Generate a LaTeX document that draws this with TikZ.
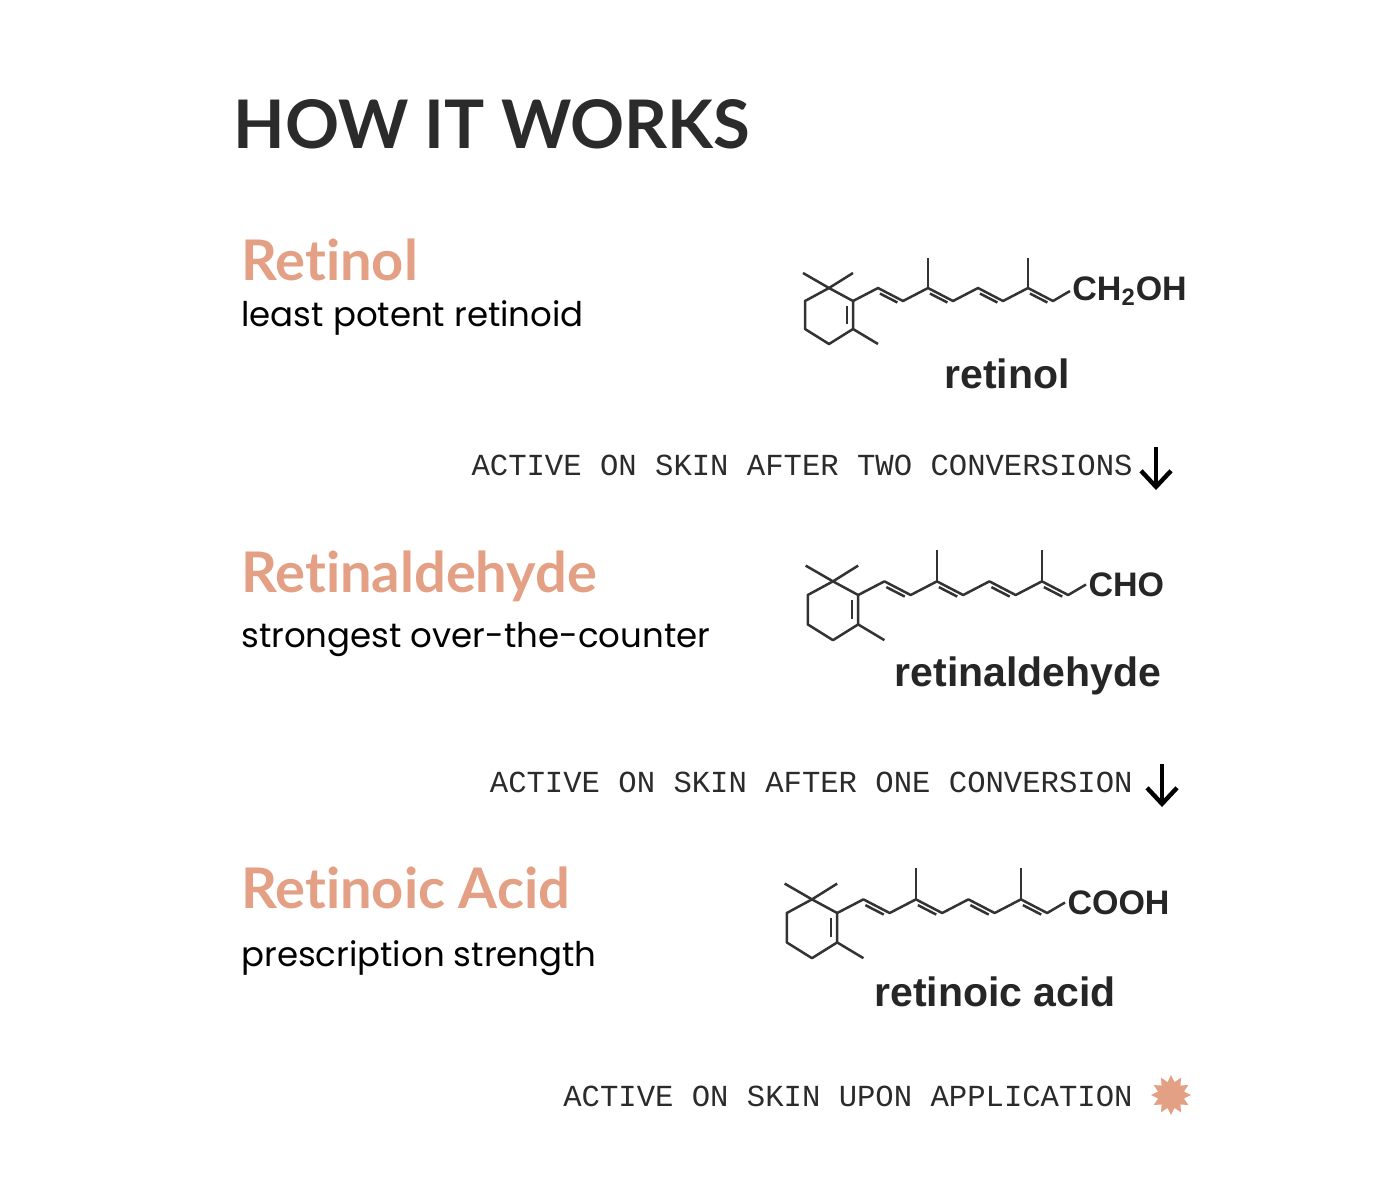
\documentclass[tikz,border=0pt]{standalone}
\usepackage{fontspec}
\setmainfont{Poppins}
\newfontfamily\headfont[Ligatures={NoCommon}]{Lato}
\newfontfamily\molfont{Liberation Sans}
\newfontfamily\monofont{Liberation Mono}
\usetikzlibrary{arrows.meta,shapes.geometric}
\definecolor{salmon}{HTML}{E4A084}
\definecolor{ink}{HTML}{2B2B2B}
\tikzset{
  bond/.style={line width=1.25pt,color=black!80,line join=round},
  grp/.style={font=\molfont\bfseries\fontsize{17}{17}\selectfont,text=black!85,inner sep=0pt},
  molname/.style={font=\molfont\bfseries\fontsize{20.5}{20}\selectfont,text=black!85,inner sep=0pt},
  head/.style={font=\headfont\fontsize{28}{30}\selectfont\bfseries,text=salmon,anchor=base west,inner sep=0pt},
  sub/.style={font=\fontsize{17}{18}\selectfont,text=black,anchor=base west,inner sep=0pt},
  mono/.style={font=\monofont\fontsize{15.3}{16}\selectfont,text=ink,anchor=base east,inner sep=0pt},
  darr/.style={line width=2.2pt,-{Straight Barb[length=8pt,width=15pt,line width=2.2pt]}},
}
\newcommand\molec[6]{%
\begin{scope}[shift={(#1,#2)},scale=#3]
\draw[bond] (13,32)--(39,47)--(63,32);
\draw[bond] (39,47)--(63,60)--(63,88)--(39,103)--(15,88)--(15,60)--cycle;
\draw[bond] (57,65)--(57,83);
\draw[bond] (63,88)--(88,103);
\draw[bond] (63,60)--(88,47)--(113,60)--(138,47)--(163,60)--(188,47)--(213,60)--(238,47)--(263,60)--(280,50);
\draw[bond] (138,47)--(138,17) (238,47)--(238,17);
\foreach \dx in {0,50,100,150}{\draw[bond] (89.9+\dx,52.5)--(107.4+\dx,61.5);}
\node[grp,anchor=west] (#6g) at (282,50) {#4};
\end{scope}}
\begin{document}
\begin{tikzpicture}[x=0.5pt,y=-0.5pt]
\useasboundingbox (0,0) rectangle (1400,1200);
\fill[white] (0,0) rectangle (1400,1200);
\node[font=\headfont\fontsize{33.5}{36}\selectfont\bfseries,text=ink,anchor=base west,inner sep=0pt] (title) at (233,148) {HOW IT WORKS};
% retinol
\node[head] (h1) at (241,280) {Retinol};
\node[sub] (s1) at (241,326) {least potent retinoid};
\molec{790}{241}{1}{CH\textsubscript{2}OH}{}{m1}
\node[molname] (n1) at (1007,374) {retinol};
\node[mono] (t1) at (1133,475) {ACTIVE ON SKIN AFTER TWO CONVERSIONS};
\coordinate (a1s) at (1156,447); \coordinate (a1e) at (1156,490);
\draw[darr] (a1s)--(a1e);
% retinaldehyde
\node[head] (h2) at (241,592) {Retinaldehyde};
\node[sub] (s2) at (241,647) {strongest over-the-counter};
\molec{792}{532}{1.05}{CHO}{}{m2}
\node[molname] (n2) at (1028,676) {retinaldehyde};
\node[mono] (t2) at (1133,792) {ACTIVE ON SKIN AFTER ONE CONVERSION};
\coordinate (a2s) at (1162,764); \coordinate (a2e) at (1162,807);
\draw[darr] (a2s)--(a2e);
% retinoic acid
\node[head] (h3) at (241,908) {Retinoic Acid};
\node[sub] (s3) at (241,966) {prescription strength};
\molec{771}{850}{1.05}{COOH}{}{m3}
\node[molname] (n3) at (995,992) {retinoic acid};
\node[mono] (t3) at (1133,1106) {ACTIVE ON SKIN UPON APPLICATION};
\node[star,star points=12,star point ratio=1.5,minimum size=20pt,fill=salmon,inner sep=0pt] (burst) at (1171,1095) {};
\end{tikzpicture}
\end{document}
